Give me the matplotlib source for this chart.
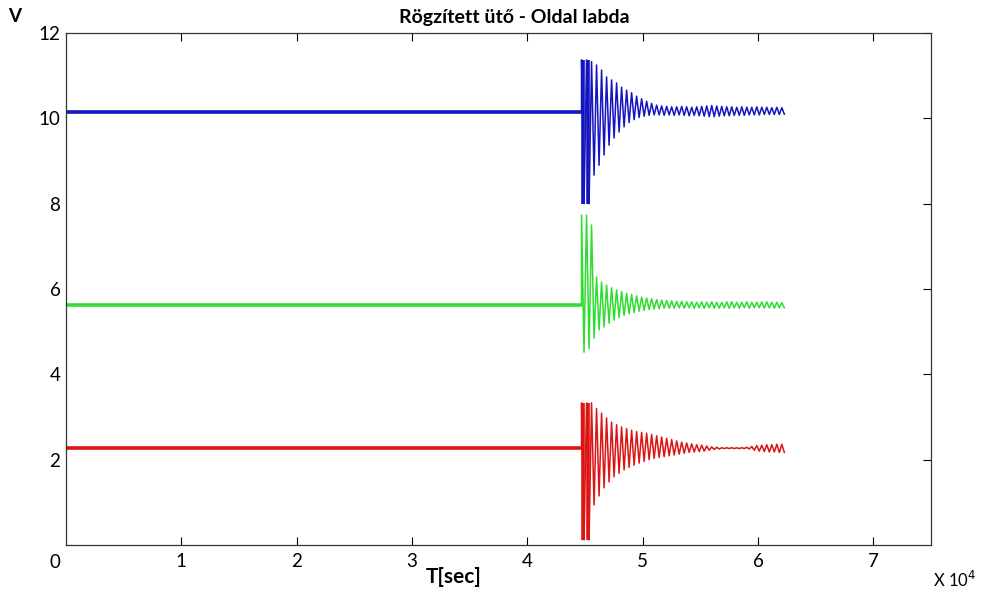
#!/usr/bin/env python3
"""Rögzített ütő - Oldal labda: három csatorna feszültsége az idő függvényében."""

import numpy as np
import matplotlib.pyplot as plt

plt.rcParams["font.family"] = ["Lato", "DejaVu Sans"]

# x in units of 10^4 s
X_START = 4.47          # where the hit happens
X_END = 6.25            # last sample

# resting levels before the hit (V)
base_levels = {"blue": 10.15, "green": 5.62, "red": 2.27}

# peak / trough of every oscillation cycle after the hit
blue_hi = [11.37, 11.37, 11.33, 11.25, 11.13, 10.97, 10.9, 10.83, 10.73, 10.66,
           10.6, 10.52, 10.46, 10.4, 10.35, 10.31, 10.29, 10.28, 10.27, 10.27,
           10.28, 10.27, 10.26, 10.27, 10.28, 10.29, 10.3, 10.29, 10.28, 10.27,
           10.27, 10.26, 10.27, 10.26, 10.26, 10.27, 10.26, 10.26, 10.25, 10.26,
           10.25]
blue_lo = [8.0, 8.0, 8.67, 8.9, 9.14, 9.37, 9.54, 9.68, 9.8, 9.9,
           9.97, 10.02, 10.05, 10.07, 10.08, 10.08, 10.07, 10.08, 10.07, 10.08,
           10.07, 10.06, 10.07, 10.06, 10.05, 10.04, 10.04, 10.05, 10.06, 10.06,
           10.07, 10.07, 10.07, 10.08, 10.08, 10.08, 10.09, 10.09, 10.09, 10.09,
           10.1]

green_hi = [7.73, 7.73, 7.5, 6.28, 6.16, 6.09, 6.03, 5.98, 5.94, 5.9,
            5.87, 5.84, 5.81, 5.79, 5.77, 5.75, 5.74, 5.73, 5.72, 5.71,
            5.71, 5.7, 5.7, 5.69, 5.7, 5.69, 5.7, 5.69, 5.69, 5.7,
            5.7, 5.69, 5.69, 5.7, 5.69, 5.69, 5.7, 5.7, 5.69, 5.69,
            5.68]
green_lo = [4.52, 4.6, 4.85, 5.04, 5.11, 5.2, 5.27, 5.33, 5.38, 5.42,
            5.45, 5.48, 5.5, 5.52, 5.53, 5.54, 5.55, 5.55, 5.55, 5.56,
            5.55, 5.56, 5.55, 5.56, 5.55, 5.56, 5.55, 5.55, 5.56, 5.55,
            5.56, 5.55, 5.56, 5.55, 5.56, 5.56, 5.55, 5.56, 5.55, 5.56,
            5.56]

red_hi = [3.33, 3.33, 3.33, 3.2, 3.09, 2.98, 2.88, 2.82, 2.77, 2.73,
          2.69, 2.66, 2.64, 2.62, 2.59, 2.56, 2.53, 2.5, 2.47, 2.44,
          2.41, 2.39, 2.37, 2.35, 2.34, 2.32, 2.3, 2.29, 2.28, 2.28,
          2.28, 2.28, 2.28, 2.29, 2.31, 2.33, 2.34, 2.35, 2.35, 2.36,
          2.36]
red_lo = [0.12, 0.12, 0.94, 1.15, 1.34, 1.48, 1.6, 1.68, 1.76, 1.82,
          1.87, 1.92, 1.96, 2.0, 2.03, 2.05, 2.07, 2.09, 2.11, 2.13,
          2.15, 2.17, 2.18, 2.19, 2.2, 2.22, 2.24, 2.25, 2.26, 2.26,
          2.26, 2.26, 2.26, 2.25, 2.22, 2.2, 2.19, 2.18, 2.18, 2.17,
          2.17]

# the first cycles of blue and red saturate into solid bars
solid_burst = {"blue": 2, "green": 0, "red": 2}

x_ticks = [1, 2, 3, 4, 5, 6, 7]
y_ticks = [2, 4, 6, 8, 10, 12]

COLORS = {"blue": "#1414c0", "green": "#2fdc2f", "red": "#dc1414"}


def oscillation(hi, lo):
    period = (X_END - X_START) / len(hi)
    xs, ys = [], []
    for i, (h, l) in enumerate(zip(hi, lo)):
        x0 = X_START + i * period
        xs += [x0, x0 + period / 2]
        ys += [h, l]
    return np.array(xs), np.array(ys), period


def main():
    fig = plt.figure(figsize=(9.82, 5.92), dpi=100)
    ax = fig.add_axes([66 / 982, 47 / 592, 865 / 982, 512 / 592])

    series = {"blue": (blue_hi, blue_lo),
              "green": (green_hi, green_lo),
              "red": (red_hi, red_lo)}
    for name, (hi, lo) in series.items():
        base = base_levels[name]
        c = COLORS[name]
        ax.plot([0.01, X_START], [base, base], color=c, lw=2.6,
                solid_capstyle="butt")
        xs, ys, period = oscillation(hi, lo)
        xs = np.concatenate([[X_START], xs])
        ys = np.concatenate([[base], ys])
        ax.plot(xs, ys, color=c, lw=1.1)
        n = solid_burst[name]
        if n:
            bx = X_START + period * (np.arange(n) + 0.25)
            ax.vlines(bx, lo[:n], hi[:n], color=c, lw=2.6)

    ax.set_xlim(0, 7.5)
    ax.set_ylim(0, 12)
    ax.set_xticks(x_ticks)
    ax.set_xticklabels([str(t) for t in x_ticks])
    ax.set_yticks(y_ticks)
    ax.set_yticklabels([str(t) for t in y_ticks])

    ax.tick_params(axis="x", direction="in", top=True, bottom=True,
                   length=6, width=0.8, labelsize=13.5, pad=6)
    ax.tick_params(axis="y", direction="in", left=False, right=True,
                   labelleft=True, labelright=False,
                   length=6, width=0.8, labelsize=13.5, pad=4)
    for s in ax.spines.values():
        s.set_color("#333333")
        s.set_linewidth(0.9)

    ax.text(-0.0127, -0.035, "0", transform=ax.transAxes, fontsize=13.5,
            ha="center", va="center")
    ax.text(0.448, -0.063, "T[sec]", transform=ax.transAxes, fontsize=15,
            fontweight="bold", ha="center", va="center")
    fig.text(955 / 982, 1 - 580 / 592, r"X 10$^4$", fontsize=12,
             ha="center", va="center")
    fig.text(15 / 982, 1 - 17 / 592, "V", fontsize=13.5, fontweight="bold",
             ha="center", va="center")
    fig.text(514 / 982, 1 - 17 / 592, "Rögzített ütő - Oldal labda",
             fontsize=14, fontweight="bold", ha="center", va="center")

    fig.savefig("out.png", dpi=100)
    plt.close(fig)


if __name__ == "__main__":
    main()
